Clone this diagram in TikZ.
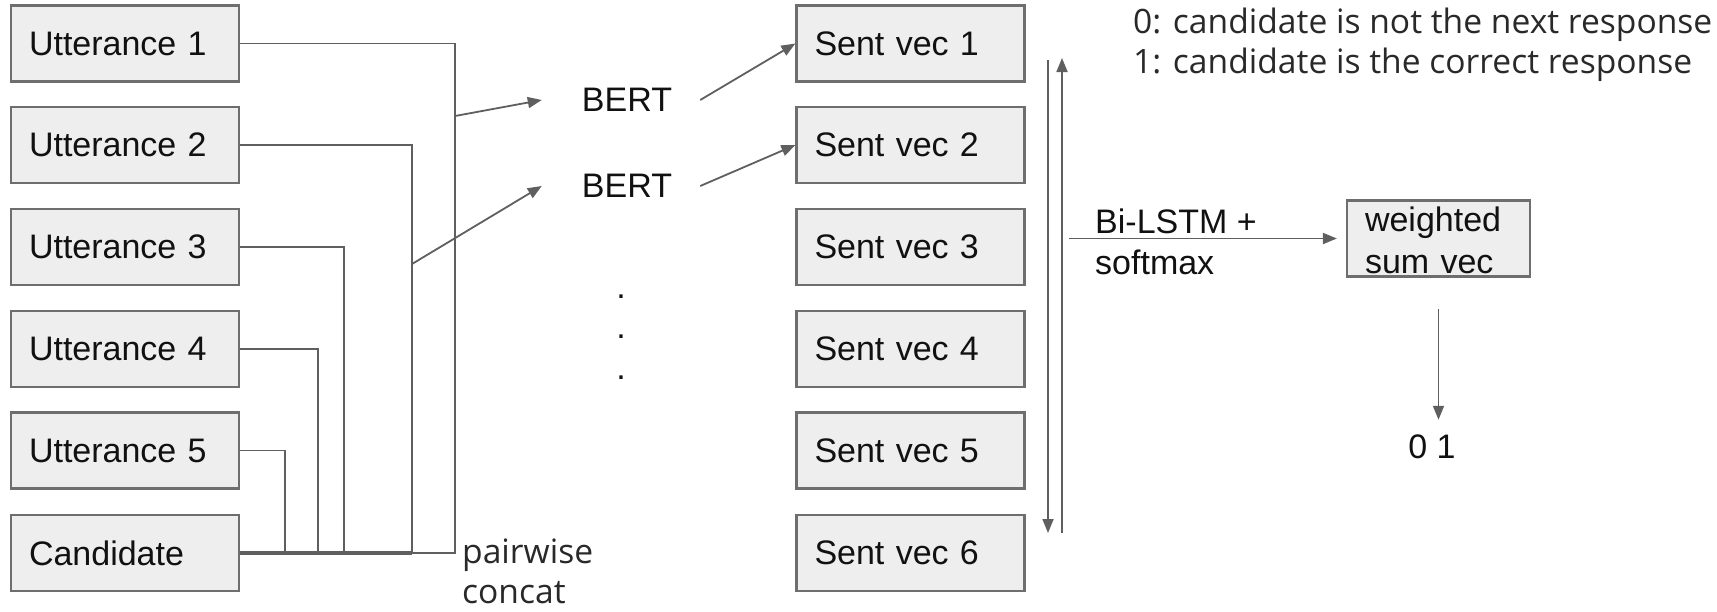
\documentclass[tikz,border=0pt]{standalone}
\usepackage{fontspec}
\setmainfont{Liberation Sans}
\newfontfamily\notefont{Open Sans}
\usetikzlibrary{arrows.meta}

\definecolor{boxfill}{HTML}{EEEEEE}
\definecolor{boxline}{HTML}{6E6E6E}
\definecolor{wire}{HTML}{5F5F5F}
\definecolor{ink}{HTML}{111111}

\tikzset{
  txt/.style={text=ink, inner sep=0pt, font=\fontsize{34}{41}\selectfont},
  block/.style={txt, draw=boxline, fill=boxfill, line width=2.2pt,
    minimum height=76pt, inner xsep=18pt, align=left},
  rowbox/.style={block, minimum width=228pt, text width=192pt},
  note/.style={txt, font=\notefont\fontsize{33.6}{40}\selectfont, text=ink!90, align=left},
  wire/.style={draw=wire, line width=1.8pt},
  arr/.style={wire, -{Triangle[length=14pt,width=11pt]}},
}

\begin{document}
\begin{tikzpicture}[x=1pt,y=-1pt]
\useasboundingbox (0,0) rectangle (1717,611);

% dialogue turns and the candidate reply
\node[rowbox] (u1)   at (125,43.5)  {Utterance 1};
\node[rowbox] (u2)   at (125,145)   {Utterance 2};
\node[rowbox] (u3)   at (125,247)   {Utterance 3};
\node[rowbox] (u4)   at (125,349)   {Utterance 4};
\node[rowbox] (u5)   at (125,450.5) {Utterance 5};
\node[rowbox] (cand) at (125,553)   {Candidate};

% sentence vectors
\node[rowbox] (s1) at (910.5,43.5)  {Sent vec 1};
\node[rowbox] (s2) at (910.5,145)   {Sent vec 2};
\node[rowbox] (s3) at (910.5,247)   {Sent vec 3};
\node[rowbox] (s4) at (910.5,349)   {Sent vec 4};
\node[rowbox] (s5) at (910.5,450.5) {Sent vec 5};
\node[rowbox] (s6) at (910.5,553)   {Sent vec 6};

% encoders
\node[txt] (b1) at (627,100) {BERT};
\node[txt] (b2) at (627,186) {BERT};
\node[txt, anchor=base] (d1) at (621,298) {.};
\node[txt, anchor=base] (d2) at (621,338) {.};
\node[txt, anchor=base] (d3) at (621,379) {.};

% pairing each utterance with the candidate
\coordinate (j1) at (455,553);
\coordinate (j2) at (412,553);
\coordinate (j3) at (344,553);
\coordinate (j4) at (318,553);
\coordinate (j5) at (285,553);
\draw[wire] (u1.east) -| (j1) -- (cand.east);
\draw[wire] (u2.east) -| (j2) -- (cand.east);
\draw[wire] (u3.east) -| (j3) -- (cand.east);
\draw[wire] (u4.east) -| (j4) -- (cand.east);
\draw[wire] (u5.east) -| (j5) -- (cand.east);
\draw[wire, line width=3.6pt] (cand.east) -- (j2);
\node[note, anchor=north west] (pc) at (462,539) {pairwise\\concat};

% pairs into BERT, BERT into sentence vectors
\coordinate (tap1) at (455,116);
\coordinate (tap2) at (412,264);
\draw[arr] (tap1) -- ([xshift=-40pt]b1.west);
\draw[arr] (tap2) -- ([xshift=-40pt]b2.west);
\draw[arr] ([xshift=28pt]b1.east) -- (s1.west);
\draw[arr] ([xshift=28pt]b2.east) -- (s2.west);

% bidirectional pass over the sequence
\coordinate (dn1) at (1048,60);
\coordinate (dn2) at (1048,533);
\coordinate (up1) at (1062,533);
\coordinate (up2) at (1062,58);
\draw[arr] (dn1) -- (dn2);
\draw[arr] (up1) -- (up2);

% pooling and output
\node[block, minimum width=183pt, text width=147pt, font=\fontsize{34}{42}\selectfont]
  (ws) at (1438.5,238.5) {\rule{0pt}{28pt}weighted\\sum vec};
\coordinate (bl) at (1069,238.5);
\draw[arr] (bl) -- ([xshift=-9pt]ws.west);
\node[txt, anchor=west, align=left] (lstm) at (1095,242) {Bi-LSTM +\\softmax};
\node[txt] (out) at (1432,447) {0 1};
\draw[arr, shorten >=15pt] ([yshift=-31pt]ws.south) -- (ws.south |- out.north);

% label meaning
\node[note, anchor=north west] (legend) at (1133,8)
  {0: candidate is not the next response\\1: candidate is the correct response};
\end{tikzpicture}
\end{document}
